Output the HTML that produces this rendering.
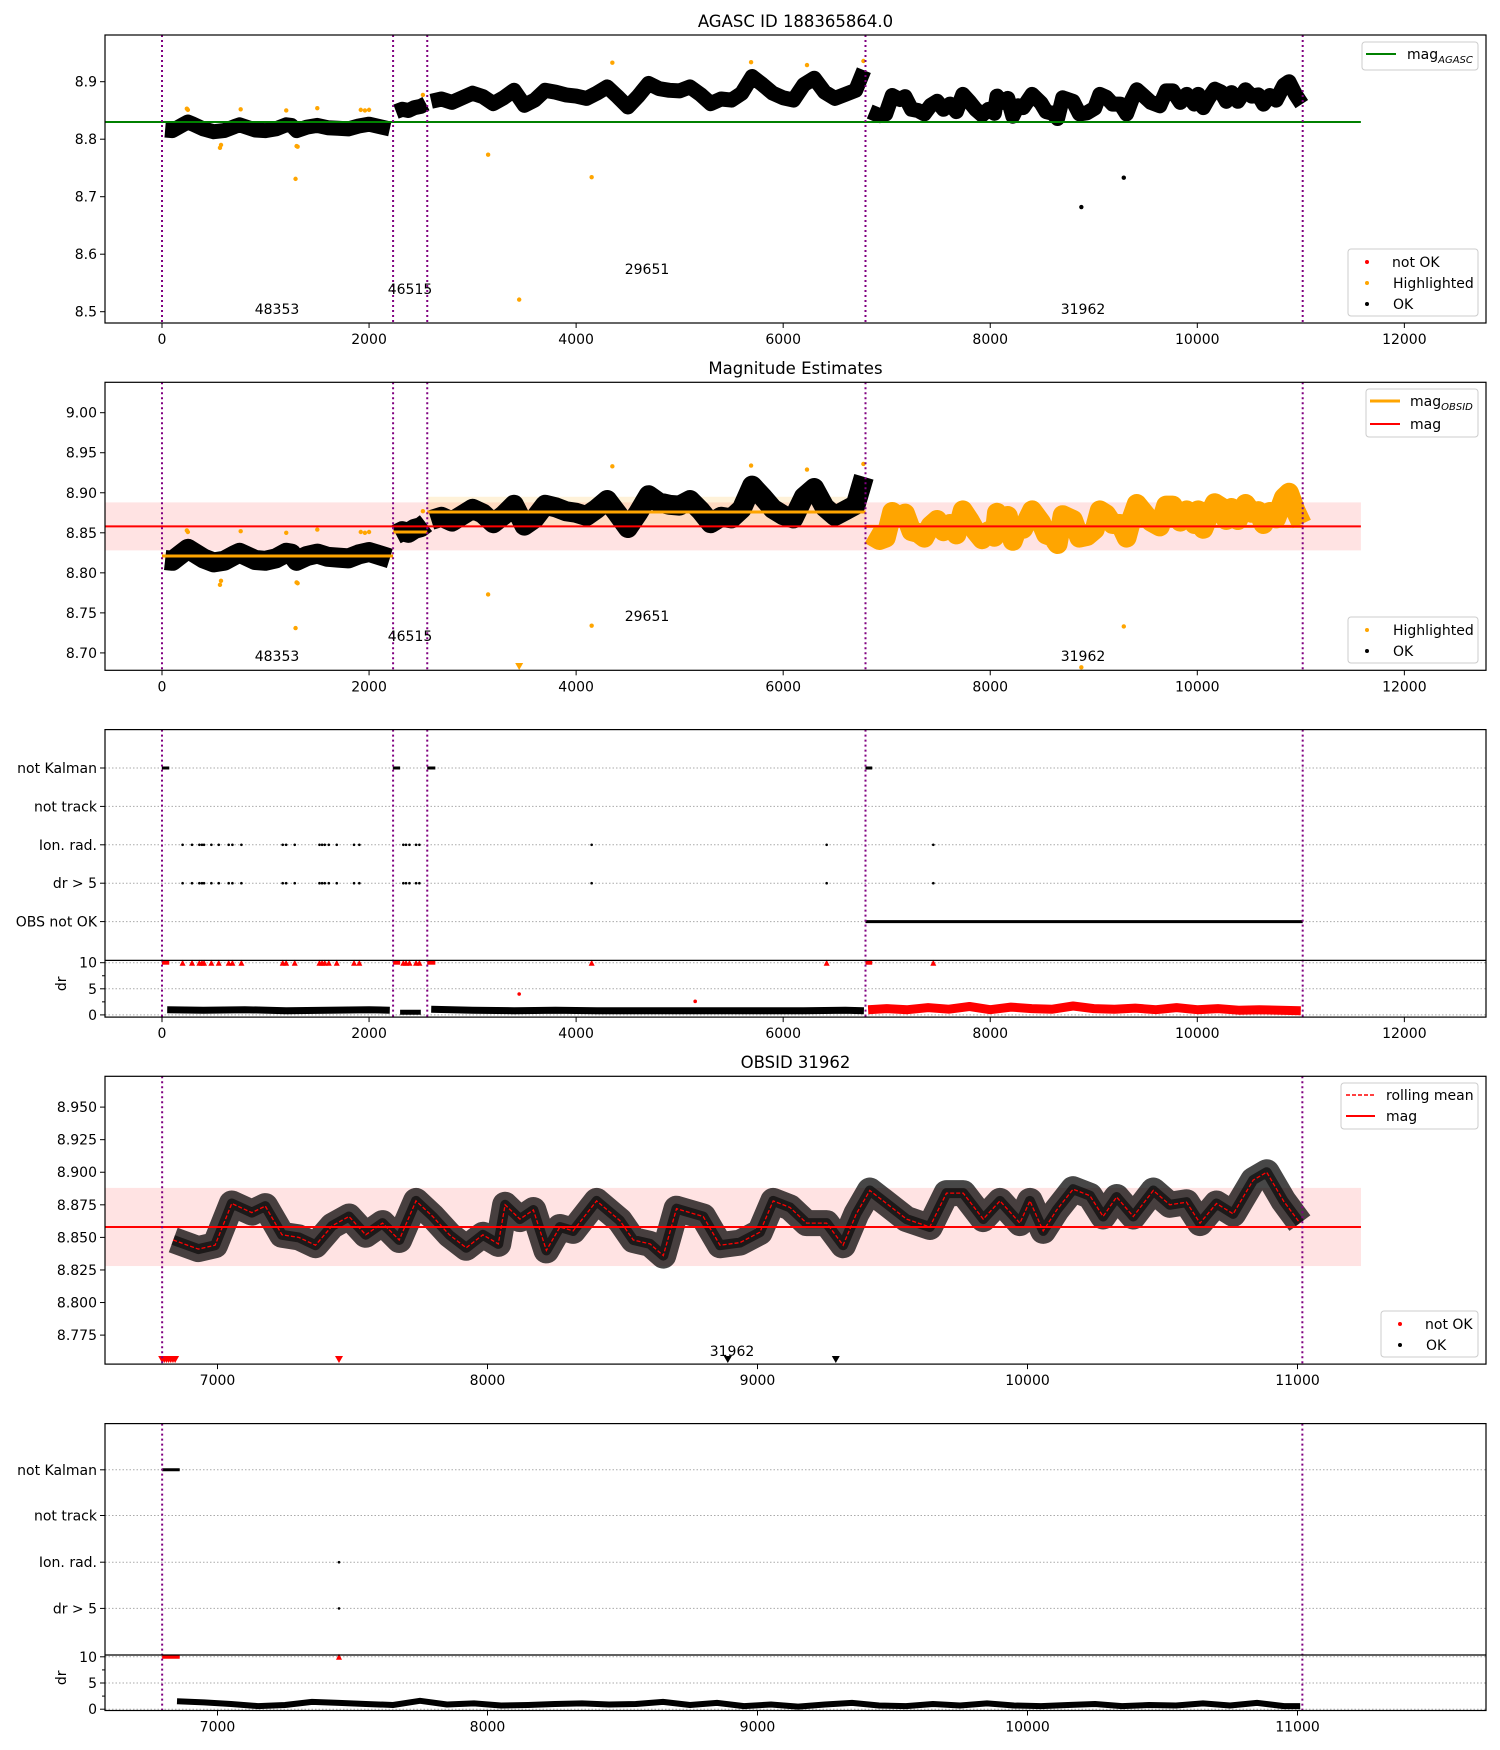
<!DOCTYPE html>
<html><head><meta charset="utf-8"><style>
html,body{margin:0;padding:0;background:#fff;}
svg{display:block;font-family:"DejaVu Sans","Liberation Sans",sans-serif;}
</style></head><body>
<svg id="fig" width="1500" height="1750" viewBox="0 0 1500 1750" xmlns="http://www.w3.org/2000/svg"></svg>
<script>
// ---------- data ----------
const obsidBounds = [0, 2232, 2562, 6795, 11018];
const obsidNames = ["48353", "46515", "29651", "31962"];
const obsidMeans = [8.821, 8.851, 8.876, 8.858];
const agascMag = 8.830;
const magAll = 8.858;
const magStd = 0.030;
const x48353 = [30,100,200,250,300,400,500,600,700,750,800,900,1000,1100,1200,1250,1300,1400,1500,1600,1700,1800,1900,2000,2100,2200];
const m48353 = [8.816,8.815,8.825,8.830,8.826,8.818,8.813,8.815,8.822,8.825,8.822,8.816,8.815,8.818,8.825,8.824,8.815,8.821,8.824,8.820,8.819,8.818,8.823,8.826,8.822,8.818];
const x46515 = [2260,2320,2380,2440,2500,2550];
const m46515 = [8.848,8.852,8.850,8.855,8.857,8.862];
const x29651 = [2600,2700,2800,2900,3000,3100,3200,3300,3400,3500,3600,3700,3800,3900,4000,4100,4200,4300,4400,4500,4600,4700,4800,4900,5000,5100,5200,5300,5400,5500,5600,5700,5800,5900,6000,6100,6200,6300,6400,6500,6600,6700,6780];
const m29651 = [8.866,8.870,8.864,8.872,8.880,8.874,8.862,8.872,8.885,8.859,8.868,8.885,8.882,8.877,8.875,8.871,8.880,8.891,8.874,8.856,8.875,8.897,8.888,8.885,8.884,8.891,8.878,8.862,8.870,8.868,8.880,8.909,8.895,8.880,8.872,8.868,8.895,8.906,8.882,8.871,8.878,8.885,8.920];
const x31962 = [6836,6929,6991,7053,7127,7177,7239,7301,7363,7425,7487,7549,7611,7673,7735,7797,7859,7921,7983,8040,8065,8120,8170,8218,8268,8317,8404,8490,8540,8602,8651,8700,8799,8861,8935,9009,9058,9120,9182,9256,9317,9366,9416,9478,9552,9638,9700,9762,9836,9898,9972,10009,10058,10108,10169,10231,10280,10330,10392,10466,10527,10589,10639,10700,10762,10836,10886,10948,11009];
const m31962 = [8.848,8.841,8.844,8.876,8.869,8.874,8.852,8.850,8.844,8.859,8.866,8.852,8.861,8.848,8.878,8.866,8.852,8.842,8.852,8.845,8.875,8.864,8.871,8.840,8.858,8.855,8.878,8.863,8.848,8.845,8.836,8.872,8.866,8.844,8.846,8.854,8.878,8.873,8.861,8.861,8.844,8.868,8.886,8.876,8.864,8.858,8.884,8.884,8.864,8.878,8.861,8.878,8.855,8.871,8.887,8.882,8.866,8.881,8.866,8.886,8.875,8.877,8.861,8.876,8.868,8.894,8.900,8.878,8.861];
const outX = [1290, 3150, 3450, 4150, 8880, 9290];
const outM = [8.731, 8.773, 8.521, 8.734, 8.682, 8.733];
const outHighlighted = [1, 1, 1, 1, 0, 0];
const hiX = [240, 250, 560, 570, 760, 1200, 1300, 1310, 1500, 1920, 1960, 2000, 2520, 4350, 5690, 6230, 6775];
const hiM = [8.853, 8.851, 8.785, 8.790, 8.852, 8.850, 8.788, 8.787, 8.854, 8.851, 8.850, 8.851, 8.877, 8.933, 8.934, 8.929, 8.936];
const ionX = [199,290,361,386,406,477,548,644,680,767,1166,1199,1282,1521,1546,1572,1611,1688,1855,1906,2331,2357,2390,2454,2486,4150,6420,7450];
const kalStart = [0, 2232, 2562, 6795];
const kalEnd = [70, 2300, 2640, 6860];
const drX = [50,400,800,1200,1600,2000,2200,2300,2500,2600,3000,3400,3800,4200,4600,5000,5400,5800,6200,6600,6780];
const drV = [1.0,0.9,1.0,0.8,0.9,1.0,0.9,0.5,0.5,1.1,0.9,0.8,0.9,0.8,0.8,0.8,0.8,0.8,0.8,0.9,0.8];
const drRedX = [6820,7000,7200,7400,7600,7800,8000,8200,8400,8600,8800,9000,9200,9400,9600,9800,10000,10200,10400,10600,10800,11000];
const drRedV = [1.0,1.2,1.0,1.4,1.1,1.6,1.0,1.5,1.2,1.1,1.7,1.2,1.1,1.3,1.0,1.4,1.0,1.2,0.9,1.0,0.9,0.8];
const dr5X = [6850,6950,7050,7150,7250,7350,7450,7550,7650,7750,7850,7950,8050,8150,8250,8350,8450,8550,8650,8750,8850,8950,9050,9150,9250,9350,9450,9550,9650,9750,9850,9950,10050,10150,10250,10350,10450,10550,10650,10750,10850,10950,11010];
const dr5V = [1.5,1.3,1.0,0.6,0.8,1.4,1.2,1.0,0.8,1.6,0.9,1.1,0.7,0.8,1.0,1.1,0.9,1.0,1.4,0.8,1.2,0.6,0.9,0.5,0.9,1.2,0.7,0.6,1.0,0.7,1.1,0.7,0.6,0.8,1.0,0.6,0.8,0.7,1.1,0.7,1.2,0.6,0.6];
const flagLabels = ["not Kalman", "not track", "Ion. rad.", "dr > 5", "OBS not OK"];
const xTicksFull = [0, 2000, 4000, 6000, 8000, 10000, 12000];
const xTicksObs = [7000, 8000, 9000, 10000, 11000];
const yTicks1 = [8.5, 8.6, 8.7, 8.8, 8.9];
const yTicks2 = [8.70, 8.75, 8.80, 8.85, 8.90, 8.95, 9.00];
const yTicks4 = [8.775, 8.800, 8.825, 8.850, 8.875, 8.900, 8.925, 8.950];
const drTicks = [0, 5, 10];

// ---------- helpers ----------
const NS = "http://www.w3.org/2000/svg";
const svg = document.getElementById("fig");
function add(parent, tag, attrs, text) {
  const el = document.createElementNS(NS, tag);
  for (const k in attrs) el.setAttribute(k, attrs[k]);
  if (text !== undefined) el.textContent = text;
  parent.appendChild(el);
  return el;
}
function nm(el, name) {
  
  
  return el;
}
const L = 105, R = 1486;
const fx = d => 162 + d * 0.10353;
const ox = d => 217.5 + (d - 7000) * 0.27;
const y1 = m => 81.7 + (8.9 - m) * 575;
const y2 = m => 412.7 + (9.0 - m) * 800.7;
const y4 = m => 1107.1 + (8.95 - m) * 1302.9;
const dr3 = v => 1014.9 - v * 5.22;
const dr5 = v => 1709.2 - v * 5.24;
const rows3 = [768, 806.4, 844.8, 883.2, 921.6];
const rows5 = [1469.8, 1515.5, 1562.2, 1608.4];
const defs = add(svg, 'defs', {});
function clip(id, x, y, w, h) { const c = add(defs, 'clipPath', {id: id}); add(c, 'rect', {x: x, y: y, width: w, height: h}); }
clip('c1', L, 35, R - L, 288); clip('c2', L, 382.3, R - L, 288); clip('c3', L, 729.6, R - L, 287.5);
clip('c4', L, 1076.3, R - L, 287.8); clip('c5', L, 1423.6, R - L, 287);
function frame(top, bottom, name) { nm(add(svg, 'rect', {x: L, y: top, width: R - L, height: bottom - top, fill: 'none', stroke: '#000', 'stroke-width': 1.2}), name); }
function yTick(y, label, name) {
  nm(add(svg, 'line', {x1: L - 5, x2: L, y1: y, y2: y, stroke: '#000', 'stroke-width': 1}), name + '-tick');
  nm(add(svg, 'text', {x: L - 8, y: y + 5, 'text-anchor': 'end', 'font-size': 14, fill: '#000'}, label), name + '-label');
}
function xTick(x, y, label, name) {
  nm(add(svg, 'line', {x1: x, x2: x, y1: y, y2: y + 5, stroke: '#000', 'stroke-width': 1}), name + '-tick');
  nm(add(svg, 'text', {x: x, y: y + 21, 'text-anchor': 'middle', 'font-size': 14, fill: '#000'}, label), name + '-label');
}
function vlines(g, xs, top, bottom, name) {
  xs.forEach(x => nm(add(g, 'line', {x1: x, x2: x, y1: top, y2: bottom, stroke: '#800080', 'stroke-width': 2, 'stroke-dasharray': '2,3'}), name));
}
function cloud(g, xs, ms, xf, yf, w, color, op, name) {
  const pts = xs.map((x, i) => xf(x).toFixed(1) + ',' + yf(ms[i]).toFixed(1)).join(' ');
  nm(add(g, 'polyline', {points: pts, fill: 'none', stroke: color, 'stroke-width': w, 'stroke-linejoin': 'round', 'stroke-linecap': 'butt', 'stroke-opacity': op}), name);
}
function dot(g, x, y, r, color, name) { nm(add(g, 'circle', {cx: x, cy: y, r: r, fill: color}), name); }
function tri(g, x, y, color, down, name) {
  const p = down ? `${x-4},${y-4} ${x+4},${y-4} ${x},${y+3}` : `${x-3},${y+3} ${x+3},${y+3} ${x},${y-3}`;
  nm(add(g, 'polygon', {points: p, fill: color}), name);
}
function label(x, y, t, name) { nm(add(svg, 'text', {x: x, y: y, 'text-anchor': 'middle', 'font-size': 14, fill: '#000'}, t), name); }
function legendBox(x, y, w, h, name) { nm(add(svg, 'rect', {x: x, y: y, width: w, height: h, rx: 3, fill: '#fff', 'fill-opacity': 0.8, stroke: '#ccc', 'stroke-width': 1}), name); }
function legendText(x, y, t, sub, name) {
  const el = add(svg, 'text', {x: x, y: y + 5, 'font-size': 14, fill: '#000'}, t);
  if (sub) { const s = add(el, 'tspan', {'font-size': 10, 'font-style': 'italic', dy: 4}, sub); nm(s, name + '-subscript'); }
  nm(el, name);
}
const segX = [x48353, x46515, x29651, x31962];
const segM = [m48353, m46515, m29651, m31962];

// ---------- panel 1 ----------
nm(add(svg, 'text', {x: 795.5, y: 27, 'text-anchor': 'middle', 'font-size': 16.5}, 'AGASC ID 188365864.0'), 'panel1-title');
const g1 = nm(add(svg, 'g', {'clip-path': 'url(#c1)'}), 'panel1-plot');
segX.forEach((xs, i) => cloud(g1, xs, segM[i], fx, y1, 15, '#000', 1, 'panel1-cloud-' + obsidNames[i]));
hiX.forEach((x, i) => dot(g1, fx(x), y1(hiM[i]), 2.2, '#ffa500', 'panel1-highlighted-point'));
outX.forEach((x, i) => dot(g1, fx(x), y1(outM[i]), 2.2, outHighlighted[i] ? '#ffa500' : '#000', 'panel1-outlier-point'));
nm(add(g1, 'line', {x1: L, x2: fx(11580), y1: y1(agascMag), y2: y1(agascMag), stroke: '#008000', 'stroke-width': 2}), 'agasc-mag-line');
vlines(g1, obsidBounds.map(fx), 35, 323, 'panel1-obsid-boundary');
frame(35, 323, 'panel1-frame');
yTicks1.forEach(t => yTick(y1(t), t.toFixed(1), 'panel1-y'));
xTicksFull.forEach(t => xTick(fx(t), 323, String(t), 'panel1-x'));
label(277, 314, '48353', 'panel1-obsid-label'); label(410, 294, '46515', 'panel1-obsid-label');
label(647, 274, '29651', 'panel1-obsid-label'); label(1083, 314, '31962', 'panel1-obsid-label');
legendBox(1362, 42, 116, 28, 'panel1-legend-top');
nm(add(svg, 'line', {x1: 1366, x2: 1396, y1: 54, y2: 54, stroke: '#008000', 'stroke-width': 2}), 'legend-agasc-swatch');
legendText(1407, 54, 'mag', 'AGASC', 'legend-agasc-text');
legendBox(1348, 249, 130, 67, 'panel1-legend-bottom');
dot(svg, 1367, 262, 2, '#f00', 'legend-notok-swatch'); legendText(1392, 262, 'not OK', '', 'legend-notok-text');
dot(svg, 1367, 283, 2, '#ffa500', 'legend-highlighted-swatch'); legendText(1393, 283, 'Highlighted', '', 'legend-highlighted-text');
dot(svg, 1367, 304, 2, '#000', 'legend-ok-swatch'); legendText(1393, 304, 'OK', '', 'legend-ok-text');

// ---------- panel 2 ----------
nm(add(svg, 'text', {x: 795.5, y: 374, 'text-anchor': 'middle', 'font-size': 16.5}, 'Magnitude Estimates'), 'panel2-title');
const g2 = nm(add(svg, 'g', {'clip-path': 'url(#c2)'}), 'panel2-plot');
nm(add(g2, 'rect', {x: L, y: y2(magAll + magStd), width: fx(11580) - L, height: y2(magAll - magStd) - y2(magAll + magStd), fill: '#ff0000', 'fill-opacity': 0.11}), 'mag-std-band');
const obsStd = [0.005, 0.004, 0.019, 0.0];
obsidMeans.forEach((m, i) => { if (obsStd[i] > 0) nm(add(g2, 'rect', {x: fx(obsidBounds[i]), y: y2(m + obsStd[i]), width: fx(obsidBounds[i + 1]) - fx(obsidBounds[i]), height: y2(m - obsStd[i]) - y2(m + obsStd[i]), fill: '#ffa500', 'fill-opacity': 0.15}), 'obsid-std-band'); });
segX.forEach((xs, i) => cloud(g2, xs, segM[i], fx, y2, 20, i === 3 ? '#ffa500' : '#000', 1, 'panel2-cloud-' + obsidNames[i]));
hiX.forEach((x, i) => dot(g2, fx(x), y2(hiM[i]), 2.2, '#ffa500', 'panel2-highlighted-point'));
outX.forEach((x, i) => { const y = y2(outM[i]); if (y < 668) dot(g2, fx(x), y, 2.2, '#ffa500', 'panel2-outlier-point'); else tri(g2, fx(x), 667, '#ffa500', true, 'panel2-outlier-marker'); });
obsidMeans.forEach((m, i) => nm(add(g2, 'line', {x1: fx(obsidBounds[i]), x2: fx(obsidBounds[i + 1]), y1: y2(m), y2: y2(m), stroke: '#ffa500', 'stroke-width': 3}), 'obsid-mean-line'));
nm(add(g2, 'line', {x1: L, x2: fx(11580), y1: y2(magAll), y2: y2(magAll), stroke: '#f00', 'stroke-width': 2}), 'panel2-mag-line');
vlines(g2, obsidBounds.map(fx), 382.3, 670.3, 'panel2-obsid-boundary');
frame(382.3, 670.3, 'panel2-frame');
yTicks2.forEach(t => yTick(y2(t), t.toFixed(2), 'panel2-y'));
xTicksFull.forEach(t => xTick(fx(t), 670.3, String(t), 'panel2-x'));
label(277, 661, '48353', 'panel2-obsid-label'); label(410, 641, '46515', 'panel2-obsid-label');
label(647, 621, '29651', 'panel2-obsid-label'); label(1083, 661, '31962', 'panel2-obsid-label');
legendBox(1366, 389, 112, 48, 'panel2-legend-top');
nm(add(svg, 'line', {x1: 1370, x2: 1400, y1: 401, y2: 401, stroke: '#ffa500', 'stroke-width': 3}), 'legend-obsid-swatch');
legendText(1410, 401, 'mag', 'OBSID', 'legend-obsid-text');
nm(add(svg, 'line', {x1: 1370, x2: 1400, y1: 424, y2: 424, stroke: '#f00', 'stroke-width': 2}), 'legend-mag-swatch');
legendText(1410, 424, 'mag', '', 'legend-mag-text');
legendBox(1348, 617, 130, 46, 'panel2-legend-bottom');
dot(svg, 1367, 630, 2, '#ffa500', 'legend-highlighted-swatch'); legendText(1393, 630, 'Highlighted', '', 'legend-highlighted-text');
dot(svg, 1367, 651, 2, '#000', 'legend-ok-swatch'); legendText(1393, 651, 'OK', '', 'legend-ok-text');

// ---------- flags panel (generic) ----------
function flagPanel(g, xf, rows, labels, top, div, bottom, drf, pfx) {
  rows.forEach((y, i) => {
    nm(add(g, 'line', {x1: L, x2: R, y1: y, y2: y, stroke: '#aaa', 'stroke-width': 1, 'stroke-dasharray': '1.5,2'}), pfx + '-row-grid');
    yTick(y, labels[i], pfx + '-flag');
  });
  drTicks.forEach(t => {
    nm(add(g, 'line', {x1: L, x2: R, y1: drf(t), y2: drf(t), stroke: '#aaa', 'stroke-width': 1, 'stroke-dasharray': '1.5,2'}), pfx + '-dr-grid');
    yTick(drf(t), String(t), pfx + '-dr');
  });
  [2.5, 7.5].forEach(t => nm(add(svg, 'line', {x1: L - 3, x2: L, y1: drf(t), y2: drf(t), stroke: '#000'}), pfx + '-dr-minor-tick'));
  nm(add(svg, 'line', {x1: L, x2: R, y1: div, y2: div, stroke: '#000', 'stroke-width': 1.2}), pfx + '-divider');
  nm(add(svg, 'text', {x: 71, y: (div + bottom) / 2, 'text-anchor': 'middle', 'font-size': 14, transform: `rotate(-90 66 ${(div + bottom) / 2})`}, 'dr'), pfx + '-dr-axis-title');
  kalStart.forEach((s, i) => {
    nm(add(g, 'line', {x1: xf(s), x2: xf(kalEnd[i]), y1: rows[0], y2: rows[0], stroke: '#000', 'stroke-width': 3}), pfx + '-kalman-flag');
    nm(add(g, 'line', {x1: xf(s), x2: xf(kalEnd[i]), y1: drf(10), y2: drf(10), stroke: '#f00', 'stroke-width': 4}), pfx + '-dr-notok-marker');
  });
  ionX.forEach(x => {
    dot(g, xf(x), rows[2], 1.3, '#000', pfx + '-ion-flag');
    dot(g, xf(x), rows[3], 1.3, '#000', pfx + '-dr5-flag');
    tri(g, xf(x), drf(10), '#f00', false, pfx + '-dr-notok-marker');
  });
}

// ---------- panel 3 ----------
const g3 = nm(add(svg, 'g', {'clip-path': 'url(#c3)'}), 'panel3-plot');
flagPanel(g3, fx, rows3, flagLabels, 729.6, 960.4, 1017.1, dr3, 'panel3');
nm(add(g3, 'line', {x1: fx(6795), x2: fx(11018), y1: rows3[4], y2: rows3[4], stroke: '#000', 'stroke-width': 3}), 'obs-notok-flag');
cloud(g3, drX.slice(0, 7), drV.slice(0, 7), fx, dr3, 7, '#000', 1, 'panel3-dr-48353');
cloud(g3, drX.slice(7, 9), drV.slice(7, 9), fx, dr3, 5, '#000', 1, 'panel3-dr-46515');
cloud(g3, drX.slice(9), drV.slice(9), fx, dr3, 7, '#000', 1, 'panel3-dr-29651');
cloud(g3, drRedX, drRedV, fx, dr3, 9, '#f00', 1, 'panel3-dr-31962');
dot(g3, fx(3450), dr3(4), 1.8, '#f00', 'panel3-dr-point'); dot(g3, fx(5150), dr3(2.6), 1.8, '#f00', 'panel3-dr-point');
vlines(g3, obsidBounds.map(fx), 729.6, 1017.1, 'panel3-obsid-boundary');
frame(729.6, 1017.1, 'panel3-frame');
xTicksFull.forEach(t => xTick(fx(t), 1017.1, String(t), 'panel3-x'));

// ---------- panel 4 ----------
nm(add(svg, 'text', {x: 795.5, y: 1068, 'text-anchor': 'middle', 'font-size': 16.5}, 'OBSID 31962'), 'panel4-title');
const g4 = nm(add(svg, 'g', {'clip-path': 'url(#c4)'}), 'panel4-plot');
nm(add(g4, 'rect', {x: L, y: y4(magAll + magStd), width: ox(11235) - L, height: y4(magAll - magStd) - y4(magAll + magStd), fill: '#ff0000', 'fill-opacity': 0.11}), 'panel4-mag-std-band');
cloud(g4, x31962, m31962, ox, y4, 26, '#000', 0.72, 'panel4-cloud');
cloud(g4, x31962, m31962, ox, y4, 10, '#000', 0.6, 'panel4-cloud-core');
nm(add(g4, 'line', {x1: L, x2: ox(11235), y1: y4(magAll), y2: y4(magAll), stroke: '#f00', 'stroke-width': 2}), 'panel4-mag-line');
nm(add(g4, 'polyline', {points: x31962.map((x, i) => ox(x).toFixed(1) + ',' + y4(m31962[i]).toFixed(1)).join(' '), fill: 'none', stroke: '#f00', 'stroke-width': 1.3, 'stroke-dasharray': '4,2'}), 'rolling-mean-line');
for (let x = 6795; x <= 6850; x += 8) tri(g4, ox(x), 1360, '#f00', true, 'panel4-notok-marker');
tri(g4, ox(7450), 1360, '#f00', true, 'panel4-notok-marker');
tri(g4, ox(8890), 1360, '#000', true, 'panel4-outlier-marker'); tri(g4, ox(9290), 1360, '#000', true, 'panel4-outlier-marker');
vlines(g4, [ox(6795), ox(11018)], 1076.3, 1364.1, 'panel4-obsid-boundary');
frame(1076.3, 1364.1, 'panel4-frame');
yTicks4.forEach(t => yTick(y4(t), t.toFixed(3), 'panel4-y'));
xTicksObs.forEach(t => xTick(ox(t), 1364.1, String(t), 'panel4-x'));
label(732, 1356, '31962', 'panel4-obsid-label');
legendBox(1341, 1083, 137, 46, 'panel4-legend-top');
nm(add(svg, 'line', {x1: 1346, x2: 1375, y1: 1095, y2: 1095, stroke: '#f00', 'stroke-width': 1.5, 'stroke-dasharray': '4,2'}), 'legend-rolling-swatch');
legendText(1386, 1095, 'rolling mean', '', 'legend-rolling-text');
nm(add(svg, 'line', {x1: 1346, x2: 1375, y1: 1116, y2: 1116, stroke: '#f00', 'stroke-width': 2}), 'legend-mag-swatch');
legendText(1386, 1116, 'mag', '', 'legend-mag-text');
legendBox(1381, 1311, 97, 46, 'panel4-legend-bottom');
dot(svg, 1400, 1324, 2, '#f00', 'legend-notok-swatch'); legendText(1425, 1324, 'not OK', '', 'legend-notok-text');
dot(svg, 1400, 1345, 2, '#000', 'legend-ok-swatch'); legendText(1426, 1345, 'OK', '', 'legend-ok-text');

// ---------- panel 5 ----------
const g5 = nm(add(svg, 'g', {'clip-path': 'url(#c5)'}), 'panel5-plot');
flagPanel(g5, ox, rows5, flagLabels.slice(0, 4), 1423.6, 1655, 1710.5, dr5, 'panel5');
cloud(g5, dr5X, dr5V, ox, dr5, 6, '#000', 1, 'panel5-dr-series');
vlines(g5, [ox(6795), ox(11018)], 1423.6, 1710.5, 'panel5-obsid-boundary');
frame(1423.6, 1710.5, 'panel5-frame');
xTicksObs.forEach(t => xTick(ox(t), 1710.5, String(t), 'panel5-x'));
</script>
</body></html>
